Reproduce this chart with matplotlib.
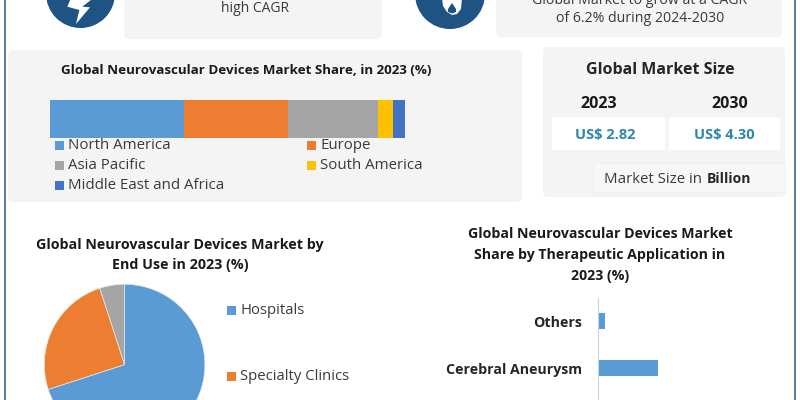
import matplotlib
matplotlib.use('Agg')
import matplotlib.pyplot as plt
from matplotlib.patches import FancyBboxPatch, Circle, Polygon, Rectangle

plt.rcParams['font.family'] = ['Open Sans', 'DejaVu Sans']

BLUE = '#5b9bd5'
ORANGE = '#ed7d31'
GRAY = '#a5a5a5'
YELLOW = '#ffc000'
DARK_BLUE = '#4472c4'
TEXT = '#3a3a3a'
NAVY = '#1f5383'

regions = ['North America', 'Europe', 'Asia Pacific', 'South America', 'Middle East and Africa']
region_share = [37.8, 29.4, 25.2, 4.2, 3.4]
region_colors = [BLUE, ORANGE, GRAY, YELLOW, DARK_BLUE]

end_use = ['Hospitals', 'Specialty Clinics', 'Others']
end_use_share = [70, 25, 5]
end_use_colors = [BLUE, ORANGE, GRAY]

applications = ['Cerebral Aneurysm', 'Others']
application_share = [30, 3.5]

years = ['2023', '2030']
market_size = ['US$ 2.82', 'US$ 4.30']

W, H = 800, 400
fig = plt.figure(figsize=(8, 4), dpi=100, facecolor='white')


def axes_px(x0, y0, x1, y1, **kw):
    # pixel box with y measured from the top of the picture
    return fig.add_axes([x0 / W, 1 - y1 / H, (x1 - x0) / W, (y1 - y0) / H], **kw)


bg = axes_px(0, 0, W, H)
bg.set_xlim(0, W)
bg.set_ylim(H, 0)
bg.axis('off')


def panel(x0, y0, x1, y1, color='#f4f4f4', r=5):
    bg.add_patch(FancyBboxPatch((x0 + r, y0 + r), x1 - x0 - 2 * r, y1 - y0 - 2 * r,
                                boxstyle='round,pad=%d,rounding_size=%d' % (r, r),
                                fc=color, ec='none'))


# frame lines
bg.plot([4.7, 4.7], [0, H], color='#4f7088', lw=1.3)
bg.plot([794.5, 794.5], [0, H], color='#4f7088', lw=1.3)

# panels
panel(124, -10, 382, 39)
panel(496, -10, 782, 37)
panel(8, 50, 522, 202)
panel(543, 47, 785, 197)
panel(552, 117, 665, 150, color='white', r=2)
panel(669, 117, 780, 150, color='white', r=2)
bg.add_patch(Rectangle((593, 163), 192, 29, fc='#f7f7f7', ec='#efefef', lw=0.6))

# icons
bg.add_patch(Circle((80.5, -6.5), 34.5, fc=NAVY, ec='none'))
bg.add_patch(Polygon([(71, -2), (67.3, 6.7), (79.3, 10), (76, 24), (90, 7.3), (82.3, 6.7), (93.5, -2)],
                     fc='white', ec='none'))
bg.add_patch(Circle((450, -6), 35, fc=NAVY, ec='none'))
bg.add_patch(Polygon([(442, -2), (443, 6), (447, 12), (452, 15), (457, 14), (461, 9), (462, -2)],
                     fc='white', ec='none'))
bg.add_patch(Polygon([(452, 3), (456, 9), (456, 12), (452, 13.5), (448, 12), (448, 9)], fc=NAVY, ec='none'))

# top texts
bg.text(255, 8.5, 'high CAGR', ha='center', va='center', fontsize=10, color=TEXT)
bg.text(640, 0, 'Global Market to grow at a CAGR', ha='center', va='center', fontsize=10.2, color=TEXT)
bg.text(640, 19, 'of 6.2% during 2024-2030', ha='center', va='center', fontsize=10.2, color=TEXT)

# regional share
bg.text(246, 70.5, 'Global Neurovascular Devices Market Share, in 2023 (%)', ha='center', va='center',
        fontsize=9.6, fontweight='bold', color='#1a1a1a')

ax = axes_px(49.5, 100, 405, 137.5)
left = 0
for name, share, color in zip(regions, region_share, region_colors):
    ax.barh(0, share, left=left, height=1, color=color, label=name)
    left += share
ax.set_xlim(0, sum(region_share))
ax.set_ylim(-0.5, 0.5)
ax.axis('off')

legend_pos = [(55, 145), (307, 145), (55, 165), (307, 165), (55, 185)]
for name, color, (lx, ly) in zip(regions, region_colors, legend_pos):
    bg.add_patch(Rectangle((lx, ly - 4.5), 9, 9, fc=color, ec='none'))
    bg.text(lx + 13.5, ly + 0.8, name, ha='left', va='center', fontsize=10.8, color=TEXT)

# market size
bg.text(660, 70.5, 'Global Market Size', ha='center', va='center', fontsize=11.5, fontweight='bold', color='#262626')
for year, value, yx, vx in zip(years, market_size, [599, 729.5], [605, 724]):
    bg.text(yx, 104, year, ha='center', va='center', fontsize=11.5, fontweight='bold', color='#1a1a1a')
    bg.text(vx, 134.5, value, ha='center', va='center', fontsize=10.5, fontweight='bold', color='#2e86ab')
bg.text(604.5, 179.5, 'Market Size in ', ha='left', va='center', fontsize=10.8, color=TEXT)
bg.text(707, 179, 'Billion', ha='left', va='center', fontsize=10, fontweight='bold', color='#262626')

# end use pie
bg.text(180, 244.5, 'Global Neurovascular Devices Market by', ha='center', va='center',
        fontsize=10.25, fontweight='bold', color='#1a1a1a')
bg.text(180, 265, 'End Use in 2023 (%)', ha='center', va='center',
        fontsize=10.25, fontweight='bold', color='#1a1a1a')

pie_ax = axes_px(124.6 - 80.3, 364.6 - 80.3, 124.6 + 80.3, 364.6 + 80.3)
pie_ax.pie(end_use_share, colors=end_use_colors, startangle=90, counterclock=False, radius=1,
           wedgeprops={'edgecolor': '#e8e8e8', 'linewidth': 0.5})
pie_ax.set_xlim(-1, 1)
pie_ax.set_ylim(-1, 1)

for name, color, ly in zip(end_use[:2], end_use_colors[:2], [310, 376]):
    bg.add_patch(Rectangle((226.5, ly - 4.5), 9, 9, fc=color, ec='none'))
    bg.text(240.5, ly + 0.8, name, ha='left', va='center', fontsize=10.7, color=TEXT)

# therapeutic application bars
for ty, line in zip([234, 255.5, 276], ['Global Neurovascular Devices Market',
                                        'Share by Therapeutic Application in', '2023 (%)']):
    bg.text(600, ty, line, ha='center', va='center', fontsize=10.2, fontweight='bold', color='#1a1a1a')

bar_ax = axes_px(597.7, 298, 780, 400)
bar_ax.barh([0, 1], application_share, height=0.34, color=BLUE)
bar_ax.set_xlim(0, 91.15)
bar_ax.set_ylim(-0.68, 1.49)
bar_ax.set_yticks([0, 1], applications, fontsize=10.2, fontweight='bold', color='#262626')
bar_ax.tick_params(axis='y', length=0, pad=11)
bar_ax.set_xticks([])
bar_ax.patch.set_alpha(0)
for side in ['top', 'right', 'bottom']:
    bar_ax.spines[side].set_visible(False)
bar_ax.spines['left'].set_color('#c5d3e0')

fig.savefig('out.png', dpi=100)
